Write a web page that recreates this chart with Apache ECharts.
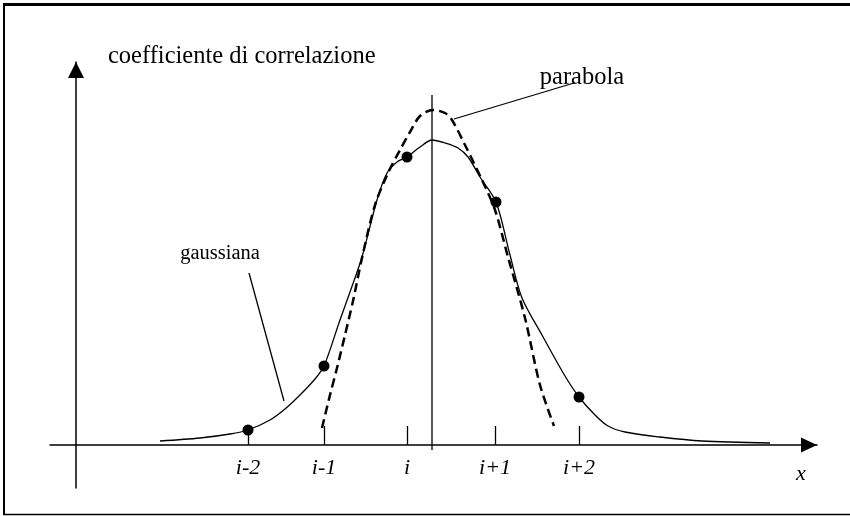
<!DOCTYPE html>
<html>
<head>
<meta charset="utf-8">
<script src="https://cdn.jsdelivr.net/npm/echarts@6/dist/echarts.min.js"></script>
<style>
  html, body { margin: 0; padding: 0; background: #fff; }
  #chart { width: 850px; height: 516px; }
</style>
</head>
<body>
<div id="chart"></div>
<script>
// posizione lungo x (unità arbitrarie, 0 = asse verticale) e ampiezza della correlazione
const gaussX = [84, 124, 154, 172, 194, 209, 224, 239, 248, 264, 274, 286, 301, 311, 321, 331, 344, 356,
                369, 382, 392, 404, 420, 434, 446, 466, 489, 503, 519, 532, 549, 584, 626, 694];
const gaussY = [4, 7, 11, 15, 25, 36, 50, 66, 79, 125, 153, 188, 245, 272, 283, 288, 298, 305,
                302, 297, 288, 268, 243, 190, 147, 110, 69, 48, 30, 19, 13, 8, 4, 2];

const parabX = [246, 254, 261, 269, 277, 286, 299, 312, 324, 334, 344, 357, 369, 376, 389, 406, 419, 432, 449, 464, 478];
const parabY = [17, 50, 77, 110, 144, 187, 240, 272, 295, 313, 329, 335, 332, 325, 300, 265, 235, 188, 127, 60, 19];

// campioni del coefficiente di correlazione
const sampleX = [172, 248, 331, 420, 503];
const sampleY = [15, 79, 288, 243, 48];

// tacche sull'asse x
const tickValues = [172, 248, 331, 419, 503];
const tickLabels = ['i-2', 'i-1', 'i', 'i+1', 'i+2'];

// linea verticale del massimo
const peakLineX = [356, 356];
const peakLineY = [350, -5];

// etichette e linee di richiamo
const noteNames = ['gaussiana', 'parabola'];
const noteX = [144, 506];
const noteY = [191, 367];
const noteSizes = [20.5, 24.5];
const leaderGauss = [[173, 172], [208, 44]];
const leaderParab = [[378, 326], [498, 362]];

const zip = (xs, ys) => xs.map((x, k) => [x, ys[k]]);

const serif = '"Liberation Serif", "Times New Roman", serif';
const ink = '#000';

const chart = echarts.init(document.getElementById('chart'));

const option = {
    animation: false,
    backgroundColor: '#fff',
    grid: { left: 50, right: 33, top: 62, bottom: 28 },
    xAxis: {
        type: 'value',
        min: -26,
        max: 741,
        name: 'x',
        nameLocation: 'end',
        nameGap: -16,
        nameTextStyle: {
            fontFamily: serif, fontStyle: 'italic', fontSize: 22, color: ink,
            align: 'center', verticalAlign: 'top', padding: [18, 0, 0, 0]
        },
        axisLine: {
            onZero: true,
            symbol: ['none', 'triangle'],
            symbolSize: [15, 16],
            symbolOffset: [0, -8],
            lineStyle: { color: ink, width: 1.5 }
        },
        axisTick: {
            show: true,
            customValues: tickValues,
            inside: true,
            length: 19,
            lineStyle: { color: ink, width: 1.3 }
        },
        axisLabel: {
            show: true,
            customValues: tickValues,
            margin: -31,
            fontFamily: serif, fontStyle: 'italic', fontSize: 22, color: ink,
            formatter: function (v) {
                const k = tickValues.indexOf(v);
                return k >= 0 ? tickLabels[k] : '';
            }
        },
        splitLine: { show: false }
    },
    yAxis: {
        type: 'value',
        min: -43,
        max: 383,
        name: 'coefficiente di correlazione',
        nameLocation: 'end',
        nameGap: -7,
        nameTextStyle: {
            fontFamily: serif, fontSize: 24.5, color: ink,
            align: 'left', verticalAlign: 'bottom', padding: [0, 0, 0, 32]
        },
        axisLine: {
            onZero: true,
            symbol: ['none', 'triangle'],
            symbolSize: [16, 16],
            symbolOffset: [0, -8],
            lineStyle: { color: ink, width: 1.5 }
        },
        axisTick: { show: false },
        axisLabel: { show: false },
        splitLine: { show: false }
    },
    graphic: [
        // cornice
        { type: 'line', shape: { x1: 3, y1: 4.5, x2: 850, y2: 4.5 }, style: { stroke: ink, lineWidth: 3 } },
        { type: 'line', shape: { x1: 4, y1: 3, x2: 4, y2: 515 }, style: { stroke: ink, lineWidth: 2 } },
        { type: 'line', shape: { x1: 3, y1: 514.5, x2: 850, y2: 514.5 }, style: { stroke: ink, lineWidth: 1.5 } }
    ],
    series: [
        {
            name: 'gaussiana',
            type: 'line',
            data: zip(gaussX, gaussY),
            smooth: 0.3,
            showSymbol: false,
            lineStyle: { color: ink, width: 1.3 },
            z: 3
        },
        {
            name: 'parabola',
            type: 'line',
            data: zip(parabX, parabY),
            smooth: 0.3,
            showSymbol: false,
            lineStyle: { color: ink, width: 2.5, type: [9, 5] },
            z: 3
        },
        {
            name: 'picco',
            type: 'line',
            data: zip(peakLineX, peakLineY),
            showSymbol: false,
            lineStyle: { color: ink, width: 1.3 },
            z: 2
        },
        {
            name: 'richiamo gaussiana',
            type: 'line',
            data: leaderGauss,
            showSymbol: false,
            lineStyle: { color: ink, width: 1.3 }
        },
        {
            name: 'richiamo parabola',
            type: 'line',
            data: leaderParab,
            showSymbol: false,
            lineStyle: { color: ink, width: 1.3 }
        },
        {
            name: 'campioni',
            type: 'scatter',
            data: zip(sampleX, sampleY),
            symbolSize: 11,
            itemStyle: { color: ink, opacity: 1 },
            z: 5
        },
        {
            name: 'etichette',
            type: 'scatter',
            data: noteNames.map((n, k) => ({
                name: n,
                value: [noteX[k], noteY[k]],
                label: { fontSize: noteSizes[k] }
            })),
            symbolSize: 0,
            clip: false,
            itemStyle: { opacity: 1 },
            label: {
                show: true,
                position: 'inside',
                formatter: '{b}',
                fontFamily: serif,
                color: ink
            }
        }
    ]
};

chart.setOption(option);
</script>
</body>
</html>
